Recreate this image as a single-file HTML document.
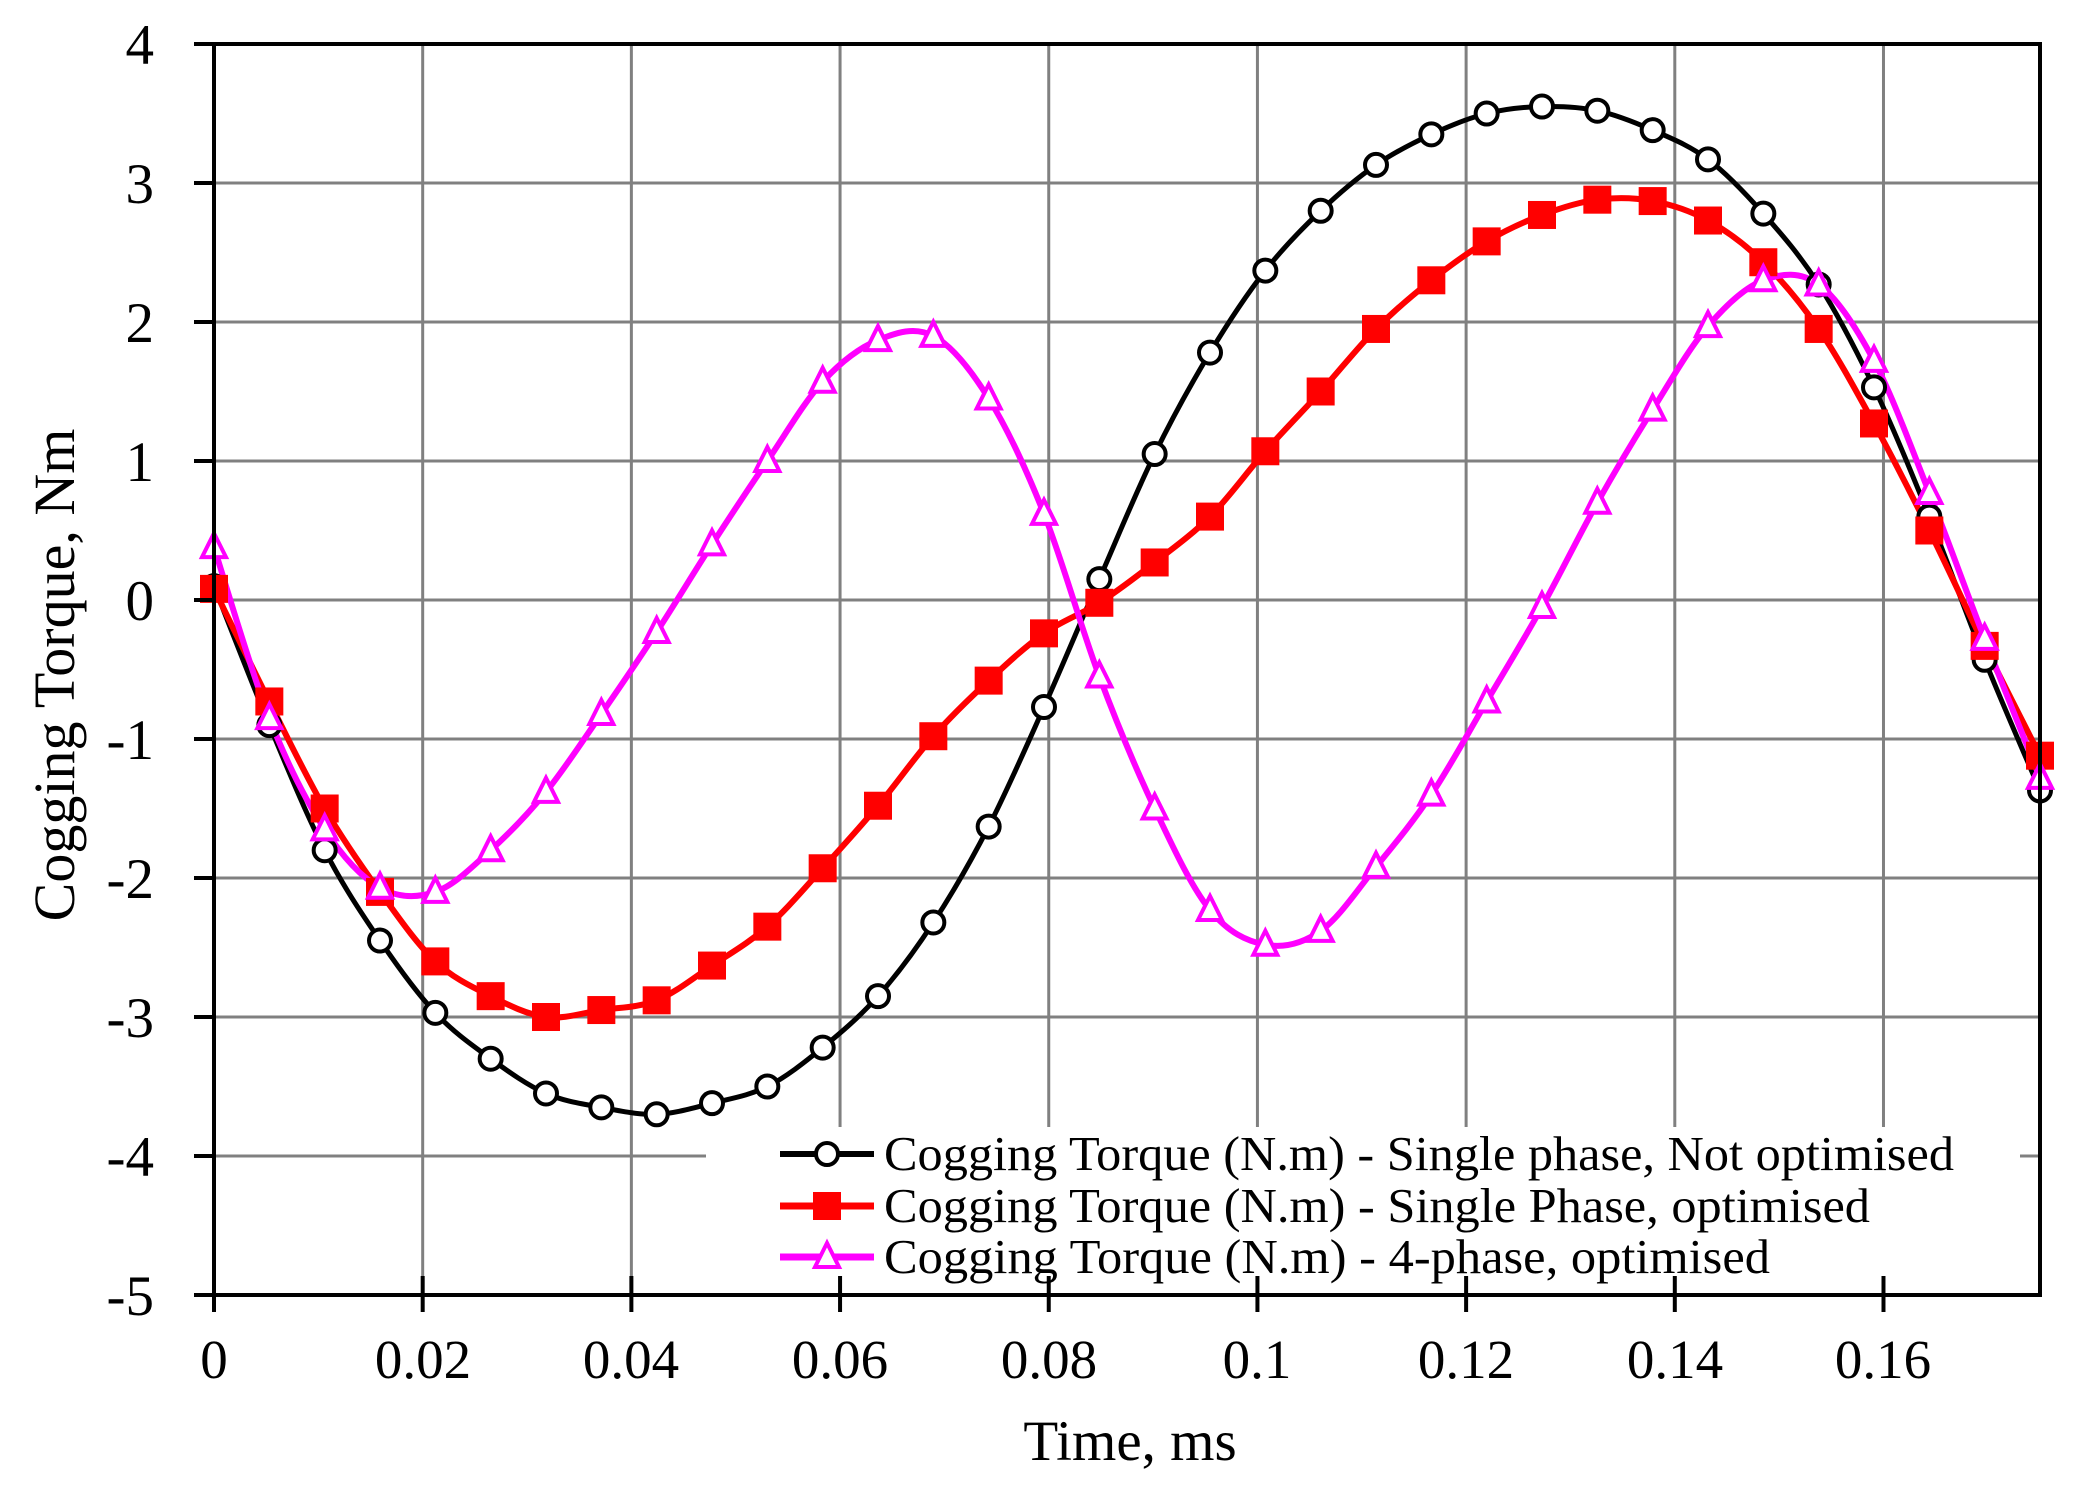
<!DOCTYPE html>
<html><head><meta charset="utf-8"><style>
html,body{margin:0;padding:0;background:#fff;}
svg{display:block;}
text{font-family:"Liberation Serif","Times New Roman",serif;fill:#000;}
</style></head><body>
<svg id="s" width="2085" height="1493" viewBox="0 0 2085 1493" xmlns="http://www.w3.org/2000/svg">
<rect width="2085" height="1493" fill="#fff"/>
<g id="grid" stroke="#808080" stroke-width="3"></g>
<g id="series"></g>
<rect x="706" y="1127" width="1314" height="150" fill="#fff"/>
<g id="axes" stroke="#000" stroke-width="4" fill="none"></g>
<g font-size="57" text-anchor="end" id="ylab">
<text x="154" y="64">4</text><text x="154" y="203">3</text><text x="154" y="342">2</text>
<text x="154" y="481">1</text><text x="154" y="620">0</text><text x="154" y="759">-1</text>
<text x="154" y="898">-2</text><text x="154" y="1037">-3</text><text x="154" y="1176">-4</text>
<text x="154" y="1315">-5</text>
</g>
<g font-size="55" text-anchor="middle">
<text x="214" y="1378">0</text><text x="423" y="1378">0.02</text><text x="631" y="1378">0.04</text>
<text x="840" y="1378">0.06</text><text x="1049" y="1378">0.08</text><text x="1257" y="1378">0.1</text>
<text x="1466" y="1378">0.12</text><text x="1675" y="1378">0.14</text><text x="1883" y="1378">0.16</text>
<text x="1130" y="1460" font-size="57">Time, ms</text>
<text transform="translate(74,675) rotate(-90)" font-size="58">Cogging Torque, Nm</text>
</g>
<g id="legend"></g>
<g font-size="49">
<text x="884" y="1170" textLength="1070" lengthAdjust="spacingAndGlyphs">Cogging Torque (N.m) - Single phase, Not optimised</text>
<text x="884" y="1222" textLength="986" lengthAdjust="spacingAndGlyphs">Cogging Torque (N.m) - Single Phase, optimised</text>
<text x="884" y="1273" textLength="886" lengthAdjust="spacingAndGlyphs">Cogging Torque (N.m) - 4-phase, optimised</text>
</g>
</svg>
<script>
var NS="http://www.w3.org/2000/svg";
function X(t){return 214+t/0.175*1826;}
function Y(v){return 44+(4-v)*139;}
function el(p,tag,a){var e=document.createElementNS(NS,tag);for(var k in a)e.setAttribute(k,a[k]);p.appendChild(e);return e;}
var g=document.getElementById('grid');
for(var i=1;i<=8;i++){var x=X(i*0.02);el(g,'line',{x1:x,y1:44,x2:x,y2:1295});}
for(var v=3;v>=-4;v--){el(g,'line',{x1:214,y1:Y(v),x2:2040,y2:Y(v)});}
var a=document.getElementById('axes');
el(a,'rect',{x:214,y:44,width:1826,height:1251});
for(var v=4;v>=-5;v--){el(a,'line',{x1:194,y1:Y(v),x2:214,y2:Y(v)});}
for(var i=0;i<=8;i++){var x=X(i*0.02);el(a,'line',{x1:x,y1:1276,x2:x,y2:1312});}
var B=[0.1,-0.9,-1.8,-2.45,-2.97,-3.3,-3.55,-3.65,-3.7,-3.62,-3.5,-3.22,-2.85,-2.32,-1.63,-0.77,0.15,1.05,1.78,2.37,2.8,3.13,3.35,3.5,3.55,3.52,3.38,3.17,2.78,2.27,1.53,0.6,-0.43,-1.37];
var R=[0.08,-0.73,-1.5,-2.1,-2.6,-2.85,-3.0,-2.95,-2.88,-2.63,-2.35,-1.93,-1.48,-0.98,-0.58,-0.24,-0.02,0.27,0.6,1.07,1.5,1.95,2.3,2.58,2.77,2.88,2.87,2.73,2.43,1.95,1.27,0.5,-0.33,-1.12];
var M=[0.38,-0.85,-1.65,-2.07,-2.1,-1.8,-1.38,-0.82,-0.23,0.4,1.0,1.57,1.87,1.9,1.45,0.62,-0.55,-1.5,-2.23,-2.48,-2.38,-1.92,-1.4,-0.73,-0.05,0.7,1.37,1.97,2.3,2.27,1.72,0.77,-0.28,-1.28];
function pts(d){return d.map(function(v,i){return [X(i*0.175/33),Y(v)];});}
function path(p){var s='M'+p[0][0]+','+p[0][1];for(var i=0;i<p.length-1;i++){var p0=p[i-1]||p[i],p1=p[i],p2=p[i+1],p3=p[i+2]||p2;
s+='C'+(p1[0]+(p2[0]-p0[0])/6)+','+(p1[1]+(p2[1]-p0[1])/6)+' '+(p2[0]-(p3[0]-p1[0])/6)+','+(p2[1]-(p3[1]-p1[1])/6)+' '+p2[0]+','+p2[1];}return s;}
var S=document.getElementById('series');
function circ(p,x,y){el(p,'circle',{cx:x,cy:y,r:11,fill:'#fff',stroke:'#000','stroke-width':4});}
function sq(p,x,y){el(p,'rect',{x:x-14,y:y-14,width:28,height:28,fill:'#f00'});}
function tri(p,x,y){el(p,'polygon',{points:(x)+','+(y-14)+' '+(x-12)+','+(y+10)+' '+(x+12)+','+(y+10),fill:'#fff',stroke:'#f0f','stroke-width':4});}
var series=[[B,'#000',5,circ],[R,'#f00',6,sq],[M,'#f0f',6,tri]];
series.forEach(function(s){var p=pts(s[0]);el(S,'path',{d:path(p),fill:'none',stroke:s[1],'stroke-width':s[2]});});
series.forEach(function(s){var p=pts(s[0]);p.forEach(function(q){s[3](S,q[0],q[1]);});});
var L=document.getElementById('legend');var ly=[1154,1206,1257];
series.forEach(function(s,i){el(L,'line',{x1:780,y1:ly[i],x2:874,y2:ly[i],stroke:s[1],'stroke-width':s[2]+1});s[3](L,827,ly[i]);});
</script>
</body></html>
